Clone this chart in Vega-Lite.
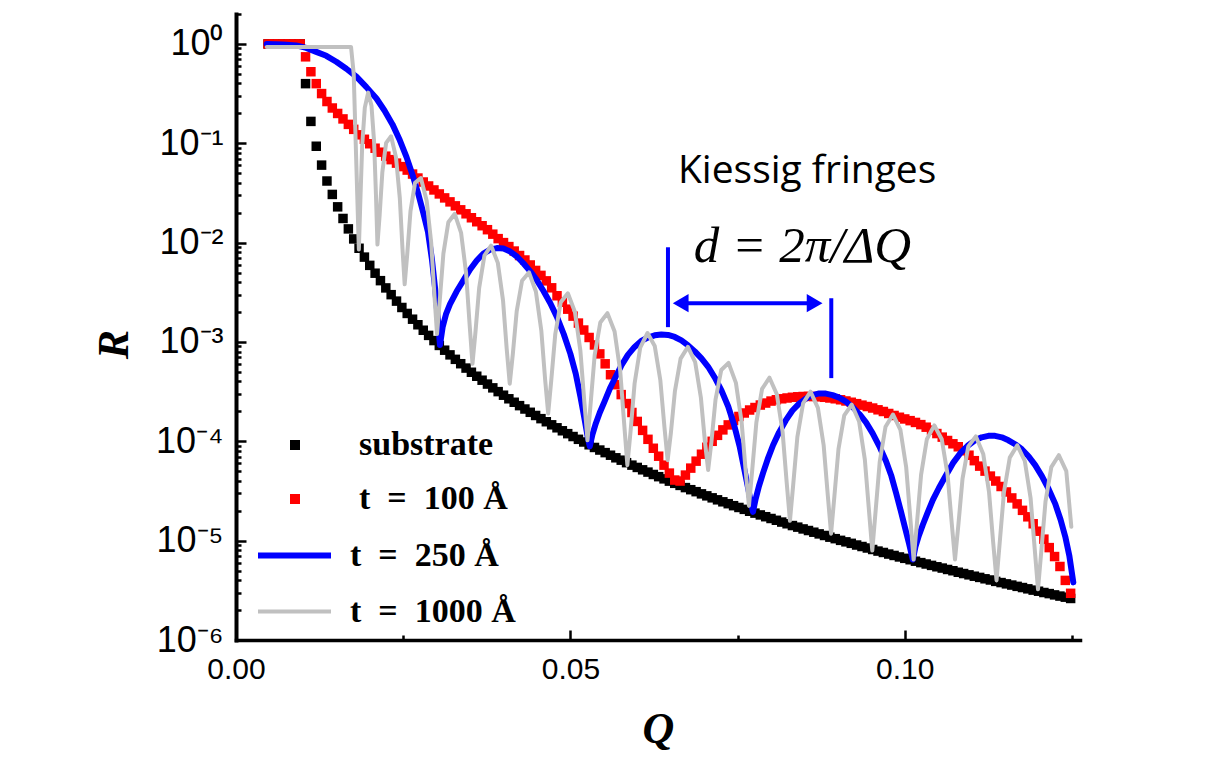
{
"$schema":"https://vega.github.io/schema/vega-lite/v6.json",
"width":844,"height":626,
"autosize":{"type":"none"},
"padding":{"left":236,"top":14,"right":149,"bottom":119},
"background":"#ffffff",
"config":{"view":{"stroke":null},"font":"Liberation Sans"},
"datasets":{
"squares":[
{"Q":0.0048,"substrate":0,"t100":0},{"Q":0.0056,"substrate":0,"t100":0},{"Q":0.0064,"substrate":0,"t100":0},{"Q":0.0072,"substrate":0,"t100":0},{"Q":0.008,"substrate":0,"t100":0},{"Q":0.0088,"substrate":0,"t100":0},{"Q":0.0096,"substrate":0,"t100":0},
{"Q":0.0104,"substrate":-0.4,"t100":-0.13},{"Q":0.0112,"substrate":-0.78,"t100":-0.28},{"Q":0.012,"substrate":-1.03,"t100":-0.4},{"Q":0.0128,"substrate":-1.22,"t100":-0.5},{"Q":0.0136,"substrate":-1.38,"t100":-0.58},{"Q":0.0144,"substrate":-1.515,"t100":-0.645},{"Q":0.0152,"substrate":-1.64,"t100":-0.7},{"Q":0.016,"substrate":-1.757,"t100":-0.755},
{"Q":0.0168,"substrate":-1.862,"t100":-0.81},{"Q":0.0176,"substrate":-1.963,"t100":-0.86},{"Q":0.0184,"substrate":-2.057,"t100":-0.915},{"Q":0.0192,"substrate":-2.146,"t100":-0.96},{"Q":0.02,"substrate":-2.229,"t100":-1.005},{"Q":0.0208,"substrate":-2.308,"t100":-1.05},{"Q":0.0216,"substrate":-2.383,"t100":-1.09},{"Q":0.0224,"substrate":-2.456,"t100":-1.13},{"Q":0.0232,"substrate":-2.524,"t100":-1.165},{"Q":0.024,"substrate":-2.589,"t100":-1.2},
{"Q":0.0248,"substrate":-2.653,"t100":-1.235},{"Q":0.0256,"substrate":-2.713,"t100":-1.27},{"Q":0.0264,"substrate":-2.771,"t100":-1.31},{"Q":0.0272,"substrate":-2.827,"t100":-1.35},{"Q":0.028,"substrate":-2.882,"t100":-1.39},{"Q":0.0288,"substrate":-2.934,"t100":-1.43},{"Q":0.0296,"substrate":-2.986,"t100":-1.47},{"Q":0.0304,"substrate":-3.035,"t100":-1.51},{"Q":0.0312,"substrate":-3.083,"t100":-1.55},{"Q":0.032,"substrate":-3.13,"t100":-1.59},
{"Q":0.0328,"substrate":-3.175,"t100":-1.63},{"Q":0.0336,"substrate":-3.219,"t100":-1.67},{"Q":0.0344,"substrate":-3.263,"t100":-1.71},{"Q":0.0352,"substrate":-3.305,"t100":-1.75},{"Q":0.036,"substrate":-3.345,"t100":-1.79},{"Q":0.0368,"substrate":-3.385,"t100":-1.83},{"Q":0.0376,"substrate":-3.424,"t100":-1.87},{"Q":0.0384,"substrate":-3.462,"t100":-1.915},{"Q":0.0392,"substrate":-3.5,"t100":-1.96},{"Q":0.04,"substrate":-3.536,"t100":-2.0},
{"Q":0.0408,"substrate":-3.572,"t100":-2.04},{"Q":0.0416,"substrate":-3.607,"t100":-2.085},{"Q":0.0424,"substrate":-3.641,"t100":-2.13},{"Q":0.0432,"substrate":-3.675,"t100":-2.175},{"Q":0.044,"substrate":-3.708,"t100":-2.225},{"Q":0.0448,"substrate":-3.74,"t100":-2.28},{"Q":0.0456,"substrate":-3.772,"t100":-2.33},{"Q":0.0464,"substrate":-3.803,"t100":-2.385},{"Q":0.0472,"substrate":-3.834,"t100":-2.455},{"Q":0.048,"substrate":-3.864,"t100":-2.535},
{"Q":0.0488,"substrate":-3.894,"t100":-2.6},{"Q":0.0496,"substrate":-3.923,"t100":-2.67},{"Q":0.0504,"substrate":-3.952,"t100":-2.74},{"Q":0.0512,"substrate":-3.98,"t100":-2.81},{"Q":0.052,"substrate":-4.007,"t100":-2.88},{"Q":0.0528,"substrate":-4.035,"t100":-2.955},{"Q":0.0536,"substrate":-4.062,"t100":-3.03},{"Q":0.0544,"substrate":-4.088,"t100":-3.12},{"Q":0.0552,"substrate":-4.114,"t100":-3.22},{"Q":0.056,"substrate":-4.14,"t100":-3.33},
{"Q":0.0568,"substrate":-4.166,"t100":-3.43},{"Q":0.0576,"substrate":-4.19,"t100":-3.53},{"Q":0.0584,"substrate":-4.215,"t100":-3.62},{"Q":0.0592,"substrate":-4.24,"t100":-3.71},{"Q":0.06,"substrate":-4.263,"t100":-3.8},{"Q":0.0608,"substrate":-4.287,"t100":-3.89},{"Q":0.0616,"substrate":-4.31,"t100":-3.98},{"Q":0.0624,"substrate":-4.334,"t100":-4.07},{"Q":0.0632,"substrate":-4.356,"t100":-4.15},{"Q":0.064,"substrate":-4.378,"t100":-4.24},
{"Q":0.0648,"substrate":-4.401,"t100":-4.32},{"Q":0.0656,"substrate":-4.423,"t100":-4.39},{"Q":0.0664,"substrate":-4.444,"t100":-4.4},{"Q":0.0672,"substrate":-4.466,"t100":-4.34},{"Q":0.068,"substrate":-4.487,"t100":-4.27},{"Q":0.0688,"substrate":-4.507,"t100":-4.2},{"Q":0.0696,"substrate":-4.529,"t100":-4.13},{"Q":0.0704,"substrate":-4.549,"t100":-4.06},{"Q":0.0712,"substrate":-4.569,"t100":-4.0},{"Q":0.072,"substrate":-4.589,"t100":-3.94},
{"Q":0.0728,"substrate":-4.609,"t100":-3.885},{"Q":0.0736,"substrate":-4.628,"t100":-3.835},{"Q":0.0744,"substrate":-4.648,"t100":-3.79},{"Q":0.0752,"substrate":-4.666,"t100":-3.75},{"Q":0.076,"substrate":-4.685,"t100":-3.715},{"Q":0.0768,"substrate":-4.704,"t100":-3.685},{"Q":0.0776,"substrate":-4.723,"t100":-3.66},{"Q":0.0784,"substrate":-4.741,"t100":-3.635},{"Q":0.0792,"substrate":-4.759,"t100":-3.615},{"Q":0.08,"substrate":-4.777,"t100":-3.595},
{"Q":0.0808,"substrate":-4.795,"t100":-3.582},{"Q":0.0816,"substrate":-4.813,"t100":-3.572},{"Q":0.0824,"substrate":-4.83,"t100":-3.564},{"Q":0.0832,"substrate":-4.848,"t100":-3.557},{"Q":0.084,"substrate":-4.864,"t100":-3.552},{"Q":0.0848,"substrate":-4.882,"t100":-3.549},{"Q":0.0856,"substrate":-4.898,"t100":-3.548},{"Q":0.0864,"substrate":-4.915,"t100":-3.549},{"Q":0.0872,"substrate":-4.932,"t100":-3.552},{"Q":0.088,"substrate":-4.948,"t100":-3.557},
{"Q":0.0888,"substrate":-4.965,"t100":-3.564},{"Q":0.0896,"substrate":-4.98,"t100":-3.572},{"Q":0.0904,"substrate":-4.997,"t100":-3.582},{"Q":0.0912,"substrate":-5.012,"t100":-3.594},{"Q":0.092,"substrate":-5.027,"t100":-3.607},{"Q":0.0928,"substrate":-5.044,"t100":-3.621},{"Q":0.0936,"substrate":-5.059,"t100":-3.636},{"Q":0.0944,"substrate":-5.074,"t100":-3.65},{"Q":0.0952,"substrate":-5.089,"t100":-3.665},{"Q":0.096,"substrate":-5.105,"t100":-3.683},
{"Q":0.0968,"substrate":-5.119,"t100":-3.7},{"Q":0.0976,"substrate":-5.135,"t100":-3.72},{"Q":0.0984,"substrate":-5.149,"t100":-3.74},{"Q":0.0992,"substrate":-5.164,"t100":-3.758},{"Q":0.1,"substrate":-5.178,"t100":-3.775},{"Q":0.1008,"substrate":-5.192,"t100":-3.792},{"Q":0.1016,"substrate":-5.207,"t100":-3.81},{"Q":0.1024,"substrate":-5.221,"t100":-3.832},{"Q":0.1032,"substrate":-5.235,"t100":-3.858},{"Q":0.104,"substrate":-5.249,"t100":-3.888},
{"Q":0.1048,"substrate":-5.263,"t100":-3.922},{"Q":0.1056,"substrate":-5.276,"t100":-3.958},{"Q":0.1064,"substrate":-5.29,"t100":-3.992},{"Q":0.1072,"substrate":-5.303,"t100":-4.025},{"Q":0.108,"substrate":-5.318,"t100":-4.055},{"Q":0.1088,"substrate":-5.331,"t100":-4.095},{"Q":0.1096,"substrate":-5.344,"t100":-4.14},{"Q":0.1104,"substrate":-5.358,"t100":-4.195},{"Q":0.1112,"substrate":-5.37,"t100":-4.25},{"Q":0.112,"substrate":-5.384,"t100":-4.3},
{"Q":0.1128,"substrate":-5.396,"t100":-4.35},{"Q":0.1136,"substrate":-5.41,"t100":-4.4},{"Q":0.1144,"substrate":-5.422,"t100":-4.455},{"Q":0.1152,"substrate":-5.435,"t100":-4.51},{"Q":0.116,"substrate":-5.447,"t100":-4.57},{"Q":0.1168,"substrate":-5.46,"t100":-4.63},{"Q":0.1176,"substrate":-5.472,"t100":-4.695},{"Q":0.1184,"substrate":-5.485,"t100":-4.76},{"Q":0.1192,"substrate":-5.498,"t100":-4.83},{"Q":0.12,"substrate":-5.509,"t100":-4.905},
{"Q":0.1208,"substrate":-5.522,"t100":-4.985},{"Q":0.1216,"substrate":-5.533,"t100":-5.07},{"Q":0.1224,"substrate":-5.546,"t100":-5.16},{"Q":0.1232,"substrate":-5.558,"t100":-5.26},{"Q":0.124,"substrate":-5.569,"t100":-5.4},{"Q":0.1248,"substrate":-5.582,"t100":-5.53}
],
"lines":[
{"t":250,"Q":0.0046,"L":0},{"t":250,"Q":0.007,"L":-0.005},{"t":250,"Q":0.009,"L":-0.015},{"t":250,"Q":0.0105,"L":-0.04},{"t":250,"Q":0.012,"L":-0.08},{"t":250,"Q":0.0135,"L":-0.12},{"t":250,"Q":0.015,"L":-0.18},{"t":250,"Q":0.0165,"L":-0.25},{"t":250,"Q":0.018,"L":-0.33},{"t":250,"Q":0.0195,"L":-0.435},{"t":250,"Q":0.021,"L":-0.55},{"t":250,"Q":0.0222,"L":-0.67},{"t":250,"Q":0.0234,"L":-0.81},{"t":250,"Q":0.0245,"L":-0.97},{"t":250,"Q":0.0255,"L":-1.14},{"t":250,"Q":0.0265,"L":-1.34},{"t":250,"Q":0.0273,"L":-1.52},{"t":250,"Q":0.028,"L":-1.7},{"t":250,"Q":0.0287,"L":-1.89},{"t":250,"Q":0.0293,"L":-2.17},{"t":250,"Q":0.0298,"L":-2.48},{"t":250,"Q":0.0302,"L":-2.78},{"t":250,"Q":0.0305,"L":-3.03},
{"t":250,"Q":0.0309,"L":-2.85},{"t":250,"Q":0.0314,"L":-2.72},{"t":250,"Q":0.032,"L":-2.62},{"t":250,"Q":0.033,"L":-2.49},{"t":250,"Q":0.034,"L":-2.38},{"t":250,"Q":0.035,"L":-2.27},{"t":250,"Q":0.036,"L":-2.18},{"t":250,"Q":0.037,"L":-2.11},{"t":250,"Q":0.038,"L":-2.07},{"t":250,"Q":0.039,"L":-2.055},{"t":250,"Q":0.04,"L":-2.06},{"t":250,"Q":0.041,"L":-2.09},{"t":250,"Q":0.042,"L":-2.14},{"t":250,"Q":0.043,"L":-2.21},{"t":250,"Q":0.044,"L":-2.29},{"t":250,"Q":0.045,"L":-2.38},{"t":250,"Q":0.046,"L":-2.49},{"t":250,"Q":0.047,"L":-2.61},{"t":250,"Q":0.048,"L":-2.75},{"t":250,"Q":0.049,"L":-2.92},{"t":250,"Q":0.05,"L":-3.12},{"t":250,"Q":0.0508,"L":-3.32},{"t":250,"Q":0.0515,"L":-3.55},{"t":250,"Q":0.0521,"L":-3.77},{"t":250,"Q":0.0526,"L":-3.96},{"t":250,"Q":0.0529,"L":-4.05},
{"t":250,"Q":0.0533,"L":-3.93},{"t":250,"Q":0.0538,"L":-3.82},{"t":250,"Q":0.0544,"L":-3.71},{"t":250,"Q":0.0551,"L":-3.6},{"t":250,"Q":0.0559,"L":-3.47},{"t":250,"Q":0.0567,"L":-3.36},{"t":250,"Q":0.0576,"L":-3.24},{"t":250,"Q":0.0586,"L":-3.13},{"t":250,"Q":0.0596,"L":-3.05},{"t":250,"Q":0.0606,"L":-2.99},{"t":250,"Q":0.0616,"L":-2.955},{"t":250,"Q":0.0626,"L":-2.933},{"t":250,"Q":0.0636,"L":-2.925},{"t":250,"Q":0.0646,"L":-2.93},{"t":250,"Q":0.0656,"L":-2.95},{"t":250,"Q":0.0666,"L":-2.985},{"t":250,"Q":0.0676,"L":-3.035},{"t":250,"Q":0.0686,"L":-3.095},{"t":250,"Q":0.0696,"L":-3.165},{"t":250,"Q":0.0706,"L":-3.25},{"t":250,"Q":0.0716,"L":-3.36},{"t":250,"Q":0.0726,"L":-3.49},{"t":250,"Q":0.0736,"L":-3.65},{"t":250,"Q":0.0745,"L":-3.84},{"t":250,"Q":0.0753,"L":-4.05},{"t":250,"Q":0.076,"L":-4.28},{"t":250,"Q":0.0766,"L":-4.48},{"t":250,"Q":0.077,"L":-4.62},{"t":250,"Q":0.0773,"L":-4.71},
{"t":250,"Q":0.0777,"L":-4.58},{"t":250,"Q":0.0782,"L":-4.45},{"t":250,"Q":0.0788,"L":-4.32},{"t":250,"Q":0.0795,"L":-4.18},{"t":250,"Q":0.0803,"L":-4.04},{"t":250,"Q":0.0812,"L":-3.91},{"t":250,"Q":0.0822,"L":-3.79},{"t":250,"Q":0.0832,"L":-3.69},{"t":250,"Q":0.0842,"L":-3.62},{"t":250,"Q":0.0852,"L":-3.57},{"t":250,"Q":0.0862,"L":-3.535},{"t":250,"Q":0.0872,"L":-3.518},{"t":250,"Q":0.0882,"L":-3.52},{"t":250,"Q":0.0892,"L":-3.535},{"t":250,"Q":0.0902,"L":-3.56},{"t":250,"Q":0.0912,"L":-3.6},{"t":250,"Q":0.0922,"L":-3.655},{"t":250,"Q":0.0932,"L":-3.725},{"t":250,"Q":0.0942,"L":-3.81},{"t":250,"Q":0.0952,"L":-3.92},{"t":250,"Q":0.0962,"L":-4.05},{"t":250,"Q":0.0972,"L":-4.2},{"t":250,"Q":0.098,"L":-4.35},{"t":250,"Q":0.0987,"L":-4.52},{"t":250,"Q":0.0994,"L":-4.7},{"t":250,"Q":0.1,"L":-4.86},{"t":250,"Q":0.1006,"L":-5.02},{"t":250,"Q":0.1012,"L":-5.19},
{"t":250,"Q":0.1016,"L":-5.06},{"t":250,"Q":0.1021,"L":-4.95},{"t":250,"Q":0.1027,"L":-4.84},{"t":250,"Q":0.1034,"L":-4.72},{"t":250,"Q":0.1042,"L":-4.59},{"t":250,"Q":0.1051,"L":-4.47},{"t":250,"Q":0.1061,"L":-4.35},{"t":250,"Q":0.1072,"L":-4.22},{"t":250,"Q":0.1083,"L":-4.12},{"t":250,"Q":0.1094,"L":-4.045},{"t":250,"Q":0.1105,"L":-3.99},{"t":250,"Q":0.1115,"L":-3.96},{"t":250,"Q":0.1125,"L":-3.945},{"t":250,"Q":0.1135,"L":-3.945},{"t":250,"Q":0.1145,"L":-3.96},{"t":250,"Q":0.1155,"L":-3.99},{"t":250,"Q":0.1165,"L":-4.03},{"t":250,"Q":0.1175,"L":-4.08},{"t":250,"Q":0.1185,"L":-4.15},{"t":250,"Q":0.1195,"L":-4.24},{"t":250,"Q":0.1205,"L":-4.35},{"t":250,"Q":0.1215,"L":-4.48},{"t":250,"Q":0.1225,"L":-4.63},{"t":250,"Q":0.1233,"L":-4.79},{"t":250,"Q":0.124,"L":-4.96},{"t":250,"Q":0.1246,"L":-5.15},{"t":250,"Q":0.1252,"L":-5.42},
{"t":1000,"Q":0.0046,"L":-0.03},{"t":1000,"Q":0.0172,"L":-0.03},{"t":1000,"Q":0.0176,"L":-0.3},{"t":1000,"Q":0.0179,"L":-1.0},
{"t":1000,"Q":0.01837,"L":-2.07},{"t":1000,"Q":0.0186,"L":-1.567},{"t":1000,"Q":0.01887,"L":-1.019},{"t":1000,"Q":0.01926,"L":-0.641},{"t":1000,"Q":0.01976,"L":-0.49},{"t":1000,"Q":0.02026,"L":-0.623},{"t":1000,"Q":0.02065,"L":-0.987},{"t":1000,"Q":0.02093,"L":-1.525},
{"t":1000,"Q":0.02115,"L":-2.02},{"t":1000,"Q":0.02148,"L":-1.721},{"t":1000,"Q":0.02188,"L":-1.292},{"t":1000,"Q":0.02245,"L":-0.996},{"t":1000,"Q":0.02319,"L":-0.93},{"t":1000,"Q":0.02392,"L":-1.14},{"t":1000,"Q":0.02449,"L":-1.548},{"t":1000,"Q":0.02489,"L":-2.057},
{"t":1000,"Q":0.02522,"L":-2.42},{"t":1000,"Q":0.02561,"L":-2.112},{"t":1000,"Q":0.02609,"L":-1.683},{"t":1000,"Q":0.02677,"L":-1.399},{"t":1000,"Q":0.02764,"L":-1.35},{"t":1000,"Q":0.02851,"L":-1.579},{"t":1000,"Q":0.02919,"L":-2.003},{"t":1000,"Q":0.02967,"L":-2.532},
{"t":1000,"Q":0.03006,"L":-2.92},{"t":1000,"Q":0.03048,"L":-2.572},{"t":1000,"Q":0.03101,"L":-2.111},{"t":1000,"Q":0.03175,"L":-1.795},{"t":1000,"Q":0.03271,"L":-1.71},{"t":1000,"Q":0.03366,"L":-1.903},{"t":1000,"Q":0.0344,"L":-2.303},{"t":1000,"Q":0.03493,"L":-2.824},
{"t":1000,"Q":0.03536,"L":-3.22},{"t":1000,"Q":0.0358,"L":-2.905},{"t":1000,"Q":0.03636,"L":-2.456},{"t":1000,"Q":0.03714,"L":-2.132},{"t":1000,"Q":0.03814,"L":-2.03},{"t":1000,"Q":0.03915,"L":-2.204},{"t":1000,"Q":0.03993,"L":-2.584},{"t":1000,"Q":0.04048,"L":-3.073},
{"t":1000,"Q":0.04093,"L":-3.42},{"t":1000,"Q":0.04139,"L":-3.124},{"t":1000,"Q":0.04197,"L":-2.692},{"t":1000,"Q":0.04277,"L":-2.384},{"t":1000,"Q":0.04381,"L":-2.3},{"t":1000,"Q":0.04484,"L":-2.492},{"t":1000,"Q":0.04565,"L":-2.884},{"t":1000,"Q":0.04622,"L":-3.376},
{"t":1000,"Q":0.04668,"L":-3.72},{"t":1000,"Q":0.04715,"L":-3.379},{"t":1000,"Q":0.04774,"L":-2.92},{"t":1000,"Q":0.04856,"L":-2.6},{"t":1000,"Q":0.04962,"L":-2.51},{"t":1000,"Q":0.05068,"L":-2.698},{"t":1000,"Q":0.0515,"L":-3.092},{"t":1000,"Q":0.05209,"L":-3.605},
{"t":1000,"Q":0.05256,"L":-3.99},{"t":1000,"Q":0.05304,"L":-3.611},{"t":1000,"Q":0.05363,"L":-3.132},{"t":1000,"Q":0.05447,"L":-2.805},{"t":1000,"Q":0.05554,"L":-2.71},{"t":1000,"Q":0.05661,"L":-2.895},{"t":1000,"Q":0.05745,"L":-3.292},{"t":1000,"Q":0.05804,"L":-3.821},
{"t":1000,"Q":0.05852,"L":-4.24},{"t":1000,"Q":0.059,"L":-3.897},{"t":1000,"Q":0.0596,"L":-3.418},{"t":1000,"Q":0.06044,"L":-3.058},{"t":1000,"Q":0.06153,"L":-2.91},{"t":1000,"Q":0.06261,"L":-3.04},{"t":1000,"Q":0.06345,"L":-3.386},{"t":1000,"Q":0.06406,"L":-3.855},
{"t":1000,"Q":0.06454,"L":-4.19},{"t":1000,"Q":0.06502,"L":-3.92},{"t":1000,"Q":0.06563,"L":-3.495},{"t":1000,"Q":0.06648,"L":-3.168},{"t":1000,"Q":0.06757,"L":-3.05},{"t":1000,"Q":0.06866,"L":-3.204},{"t":1000,"Q":0.06951,"L":-3.559},{"t":1000,"Q":0.07012,"L":-4.004},
{"t":1000,"Q":0.0706,"L":-4.29},{"t":1000,"Q":0.07109,"L":-4.004},{"t":1000,"Q":0.0717,"L":-3.581},{"t":1000,"Q":0.07256,"L":-3.282},{"t":1000,"Q":0.07365,"L":-3.21},{"t":1000,"Q":0.07475,"L":-3.412},{"t":1000,"Q":0.07561,"L":-3.811},{"t":1000,"Q":0.07622,"L":-4.307},
{"t":1000,"Q":0.0767,"L":-4.65},{"t":1000,"Q":0.07719,"L":-4.287},{"t":1000,"Q":0.07781,"L":-3.81},{"t":1000,"Q":0.07866,"L":-3.473},{"t":1000,"Q":0.07977,"L":-3.36},{"t":1000,"Q":0.08087,"L":-3.527},{"t":1000,"Q":0.08173,"L":-3.906},{"t":1000,"Q":0.08234,"L":-4.413},
{"t":1000,"Q":0.08283,"L":-4.8},{"t":1000,"Q":0.08332,"L":-4.435},{"t":1000,"Q":0.08394,"L":-3.956},{"t":1000,"Q":0.0848,"L":-3.617},{"t":1000,"Q":0.0859,"L":-3.5},{"t":1000,"Q":0.08701,"L":-3.663},{"t":1000,"Q":0.08787,"L":-4.04},{"t":1000,"Q":0.08849,"L":-4.545},
{"t":1000,"Q":0.08898,"L":-4.93},{"t":1000,"Q":0.08947,"L":-4.557},{"t":1000,"Q":0.09009,"L":-4.076},{"t":1000,"Q":0.09095,"L":-3.739},{"t":1000,"Q":0.09206,"L":-3.63},{"t":1000,"Q":0.09317,"L":-3.801},{"t":1000,"Q":0.09403,"L":-4.184},{"t":1000,"Q":0.09465,"L":-4.699},
{"t":1000,"Q":0.09514,"L":-5.1},{"t":1000,"Q":0.09564,"L":-4.701},{"t":1000,"Q":0.09626,"L":-4.203},{"t":1000,"Q":0.09712,"L":-3.854},{"t":1000,"Q":0.09823,"L":-3.73},{"t":1000,"Q":0.09935,"L":-3.886},{"t":1000,"Q":0.10021,"L":-4.261},{"t":1000,"Q":0.10083,"L":-4.777},
{"t":1000,"Q":0.10132,"L":-5.19},{"t":1000,"Q":0.10182,"L":-4.824},{"t":1000,"Q":0.10244,"L":-4.336},{"t":1000,"Q":0.1033,"L":-3.979},{"t":1000,"Q":0.10442,"L":-3.84},{"t":1000,"Q":0.10553,"L":-3.979},{"t":1000,"Q":0.1064,"L":-4.336},{"t":1000,"Q":0.10702,"L":-4.824},
{"t":1000,"Q":0.10751,"L":-5.19},{"t":1000,"Q":0.10801,"L":-4.844},{"t":1000,"Q":0.10863,"L":-4.379},{"t":1000,"Q":0.1095,"L":-4.051},{"t":1000,"Q":0.11062,"L":-3.95},{"t":1000,"Q":0.11173,"L":-4.127},{"t":1000,"Q":0.1126,"L":-4.513},{"t":1000,"Q":0.11322,"L":-5.02},
{"t":1000,"Q":0.11372,"L":-5.4},{"t":1000,"Q":0.11421,"L":-5.008},{"t":1000,"Q":0.11483,"L":-4.513},{"t":1000,"Q":0.1157,"L":-4.164},{"t":1000,"Q":0.11682,"L":-4.04},{"t":1000,"Q":0.11794,"L":-4.196},{"t":1000,"Q":0.11881,"L":-4.571},{"t":1000,"Q":0.11943,"L":-5.084},
{"t":1000,"Q":0.11992,"L":-5.49},{"t":1000,"Q":0.12042,"L":-5.1},{"t":1000,"Q":0.12104,"L":-4.607},{"t":1000,"Q":0.12191,"L":-4.26},{"t":1000,"Q":0.12303,"L":-4.14},{"t":1000,"Q":0.12415,"L":-4.3},{"t":1000,"Q":0.1249,"L":-4.86}
],
"segments":[{"Q":0.06459,"L":-2.047,"Q2":0.06459,"L2":-2.851},{"Q":0.08901,"L":-2.56,"Q2":0.08901,"L2":-3.364},{"Q":0.066,"L":-2.61,"Q2":0.087,"L2":-2.61}],
"heads":[{"Q":0.06649,"L":-2.61,"dir":"left"},{"Q":0.08652,"L":-2.61,"dir":"right"}],
"notes":[{"Q":0.0854,"L":-1.404,"label":"Kiessig fringes"}],
"formula":[{"Q":0.0847,"L":-2.198,"label":"d = 2π/ΔQ"}]
},
"layer":[
{
"data":{"name":"squares"},
"transform":[{"fold":["substrate","t100"],"as":["series","L"]}],
"mark":{"type":"point","shape":"square","filled":true,"size":90,"opacity":1,"strokeWidth":0},
"encoding":{
"x":{"field":"Q","type":"quantitative","scale":{"domain":[0,0.1262],"nice":false,"zero":false},
"axis":{"orient":"bottom","values":[0,0.05,0.1],"format":".2f","labelFont":"Liberation Sans","labelFontSize":30,"labelColor":"#000000","labelPadding":24,"labelFlush":false,"tickSize":-10,"tickWidth":2.5,"tickColor":"#000000","domainColor":"#000000","domainWidth":3.5,"domainCap":"square","grid":false,"title":"Q","titleFont":"Liberation Serif","titleFontSize":44,"titleFontWeight":"bold","titleFontStyle":"italic","titleColor":"#000000","titleBaseline":"alphabetic","titleY":102}},
"y":{"field":"L","type":"quantitative","scale":{"domain":[-6,0.30103],"nice":false,"zero":false},
"axis":{"orient":"left","values":[-6,-5,-4,-3,-2,-1,0],"labelExpr":"datum.value == 0 ? '10⁰' : '10⁻' + ['', '¹', '²', '³', '⁴', '⁵', '⁶'][-datum.value]","labelFont":"Liberation Sans","labelFontSize":36,"labelColor":"#000000","labelPadding":23,"labelFlush":false,"tickSize":-10,"tickWidth":2.5,"tickColor":"#000000","domainColor":"#000000","domainWidth":4,"domainCap":"square","grid":false,"title":"R","titleFont":"Liberation Serif","titleFontSize":44,"titleFontWeight":"bold","titleFontStyle":"italic","titleColor":"#000000","titleBaseline":"alphabetic","titleAngle":-90,"titleAlign":"center","titleX":-109,"titleY":330}},
"fill":{"field":"series","type":"nominal","scale":{"domain":["substrate","t100"],"range":["#000000","#ff0000"]},
"legend":{"orient":"none","legendX":42,"legendY":414,"title":null,"symbolType":"square","symbolSize":100,"symbolStrokeWidth":0,"labelFont":"Liberation Serif","labelFontWeight":"bold","labelFontSize":34,"labelColor":"#000000","labelLimit":400,"labelOffset":47,"rowPadding":20,"padding":0,"labelExpr":"datum.label == 't100' ? 't\u2002=\u2002100 Å' : datum.label"}},
"order":{"field":"series","sort":"ascending"}
}
},
{
"data":{"name":"lines"},
"mark":{"type":"line","strokeJoin":"round","strokeCap":"round"},
"encoding":{
"x":{"field":"Q","type":"quantitative","axis":{"orient":"bottom","values":[0.025,0.075,0.125],"labels":false,"domain":false,"grid":false,"tickSize":-5,"tickWidth":2.5,"tickColor":"#000000","title":null}},
"y":{"field":"L","type":"quantitative","axis":{"orient":"left","values":[-5.69897,-5.52288,-5.39794,-5.30103,-5.22185,-5.1549,-5.09691,-5.04576,-4.69897,-4.52288,-4.39794,-4.30103,-4.22185,-4.1549,-4.09691,-4.04576,-3.69897,-3.52288,-3.39794,-3.30103,-3.22185,-3.1549,-3.09691,-3.04576,-2.69897,-2.52288,-2.39794,-2.30103,-2.22185,-2.1549,-2.09691,-2.04576,-1.69897,-1.52288,-1.39794,-1.30103,-1.22185,-1.1549,-1.09691,-1.04576,-0.69897,-0.52288,-0.39794,-0.30103,-0.22185,-0.1549,-0.09691,-0.04576,0.30103],"labels":false,"domain":false,"grid":false,"tickSize":-5,"tickWidth":2.5,"tickColor":"#000000","title":null}},
"stroke":{"field":"t","type":"ordinal","scale":{"domain":[250,1000],"range":["#0000ff","#c0c0c0"]},
"legend":{"orient":"none","legendX":19,"legendY":502,"title":null,"symbolType":"stroke","symbolSize":5329,"labelFont":"Liberation Serif","labelFontWeight":"bold","labelFontSize":34,"labelColor":"#000000","labelLimit":400,"labelOffset":16,"rowPadding":-3,"padding":0,"labelExpr":"'t\u2002=\u2002' + datum.label + ' Å'"}},
"strokeWidth":{"field":"t","type":"ordinal","scale":{"domain":[250,1000],"range":[6,4]},
"legend":{"orient":"none","legendX":19,"legendY":502,"title":null,"symbolType":"stroke","symbolSize":5329,"labelFont":"Liberation Serif","labelFontWeight":"bold","labelFontSize":34,"labelColor":"#000000","labelLimit":400,"labelOffset":16,"rowPadding":-3,"padding":0,"labelExpr":"'t\u2002=\u2002' + datum.label + ' Å'"}}
}
},
{
"data":{"name":"segments"},
"mark":{"type":"rule","color":"#0000ff","strokeWidth":4},
"encoding":{"x":{"field":"Q","type":"quantitative","axis":null},"y":{"field":"L","type":"quantitative","axis":null},"x2":{"field":"Q2"},"y2":{"field":"L2"}}
},
{
"data":{"name":"heads"},
"mark":{"type":"point","filled":true,"size":330,"opacity":1,"color":"#0000ff","strokeWidth":0},
"encoding":{"x":{"field":"Q","type":"quantitative","axis":null},"y":{"field":"L","type":"quantitative","axis":null},
"shape":{"field":"dir","type":"nominal","scale":{"domain":["left","right"],"range":["triangle-left","triangle-right"]},"legend":null}}
},
{
"data":{"name":"notes"},
"mark":{"type":"text","font":"Open Sans","fontSize":39,"align":"center","baseline":"alphabetic","color":"#000000"},
"encoding":{"x":{"field":"Q","type":"quantitative","axis":null},"y":{"field":"L","type":"quantitative","axis":null},"text":{"field":"label"}}
},
{
"data":{"name":"formula"},
"mark":{"type":"text","font":"Liberation Serif","fontStyle":"italic","fontSize":51,"align":"center","baseline":"alphabetic","color":"#000000"},
"encoding":{"x":{"field":"Q","type":"quantitative","axis":null},"y":{"field":"L","type":"quantitative","axis":null},"text":{"field":"label"}}
}
],
"resolve":{"axis":{"x":"independent","y":"independent"}}
}
